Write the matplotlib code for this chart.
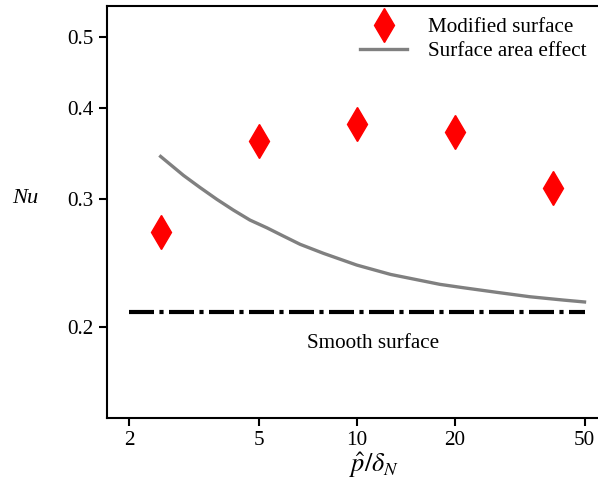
import matplotlib
matplotlib.use("Agg")
import matplotlib.pyplot as plt
from matplotlib.ticker import FixedLocator, NullLocator, FixedFormatter

plt.rcParams["font.family"] = ["Liberation Serif", "DejaVu Serif"]
plt.rcParams["mathtext.fontset"] = "stix"

# modified surface measurements
p_mod = [2.5, 5, 10, 20, 40]
nu_mod = [0.270, 0.360, 0.380, 0.370, 0.310]

# surface area effect curve
p_area = [2.5, 2.94, 3.3, 3.72, 4.18, 4.7, 5.3, 5.95, 6.7, 7.9, 10,
          12.7, 18, 21.2, 26.9, 34, 43.1, 50]
nu_area = [0.343, 0.323, 0.311, 0.2995, 0.2895, 0.2805, 0.2737, 0.2667,
           0.2598, 0.2525, 0.2433, 0.2362, 0.2289, 0.2265, 0.2232, 0.2201,
           0.2178, 0.2165]

# smooth surface reference
p_smooth = [2, 50]
nu_smooth = [0.21, 0.21]

xticks = [2, 5, 10, 20, 50]
yticks = [0.2, 0.3, 0.4, 0.5]

fs = 15.2

fig = plt.figure(figsize=(5.98, 4.98), dpi=100)
ax = fig.add_axes([0.179, 0.1606, 0.821, 0.8274])

ax.plot(p_mod, nu_mod, linestyle="none", marker="d", markersize=17,
        color="red", markeredgecolor="red", label="Modified surface")
ax.plot(p_area, nu_area, color="gray", linewidth=2.4, label="Surface area effect")
ax.plot(p_smooth, nu_smooth, color="black", linewidth=3,
        dashes=(6, 1.3, 1, 1.3))

ax.set_xscale("log")
ax.set_yscale("log")
ax.set_xlim(1.712, 55)
ax.set_ylim(0.150, 0.552)

ax.xaxis.set_major_locator(FixedLocator(xticks))
ax.xaxis.set_major_formatter(FixedFormatter([str(t) for t in xticks]))
ax.xaxis.set_minor_locator(NullLocator())
ax.yaxis.set_major_locator(FixedLocator(yticks))
ax.yaxis.set_major_formatter(FixedFormatter([str(t) for t in yticks]))
ax.yaxis.set_minor_locator(NullLocator())

ax.tick_params(labelsize=fs, width=1.5, length=6, direction="out")
for s in ["left", "bottom", "top"]:
    ax.spines[s].set_linewidth(1.5)
ax.spines["right"].set_visible(False)

ax.text(11.2, 0.190, "Smooth surface", fontsize=fs, ha="center", va="center")

ax.set_xlabel(r"$\hat{p}/\delta_N$", fontsize=19)
ax.xaxis.set_label_coords(0.543, -0.078)
ax.set_ylabel("Nu", fontsize=fs + 1, style="italic", rotation=0, va="center")
ax.yaxis.set_label_coords(-0.167, 0.5316)

ax.legend(loc="upper right", bbox_to_anchor=(1.0, 1.0), frameon=False,
          fontsize=fs, handlelength=2.2, handletextpad=1.0, borderaxespad=0.15,
          labelspacing=0.2)

fig.savefig("out.png", dpi=100)
